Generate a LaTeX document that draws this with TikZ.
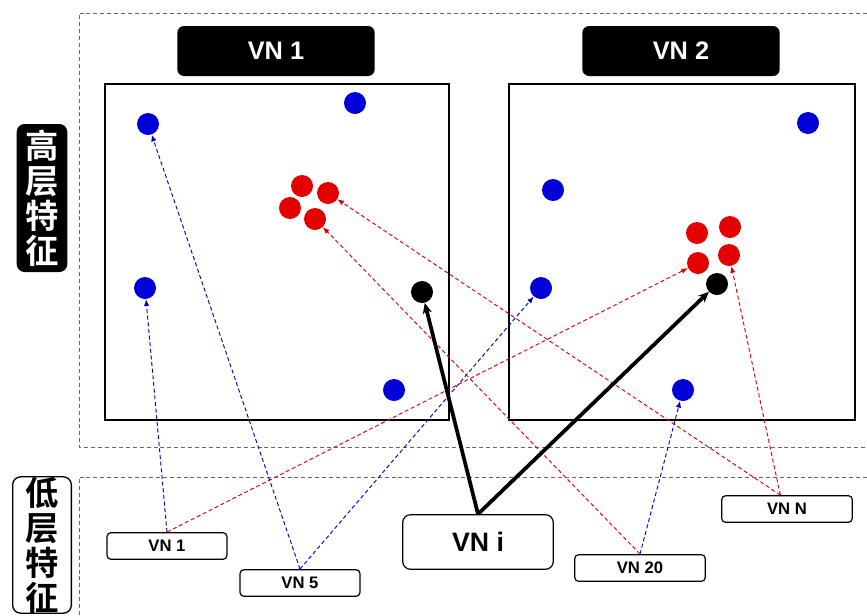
\documentclass[tikz,border=0pt]{standalone}
\usepackage{fontspec}
\setmainfont{Liberation Sans}
\newfontfamily\cjk{Noto Sans CJK SC}[BoldFont={* Bold}]
\usetikzlibrary{arrows.meta}
\begin{document}
\begin{tikzpicture}[x=0.75pt,y=-0.75pt,
  region/.style={draw=black!60,dash pattern=on 3pt off 2.2pt,line width=0.6pt},
  panel/.style={draw=black,line width=1.1pt},
  titlebox/.style={fill=black,rounded corners=5pt,text=white,font=\bfseries\fontsize{19}{22}\selectfont,minimum width=148pt,minimum height=37.5pt,inner sep=0pt},
  sidedark/.style={fill=black,rounded corners=6pt,text=white,font=\cjk\bfseries\fontsize{25}{26.25}\selectfont,align=center,minimum width=38pt,minimum height=111pt,inner sep=0pt},
  sidelight/.style={draw=black,line width=1pt,fill=white,rounded corners=6pt,text=black,font=\cjk\bfseries\fontsize{25}{26.25}\selectfont,align=center,minimum width=44pt,minimum height=101pt,inner sep=0pt},
  smallbox/.style={draw=black,line width=0.9pt,rounded corners=3pt,font=\bfseries\fontsize{12.5}{14}\selectfont,minimum width=90pt,minimum height=20pt,inner sep=0pt},
  widebox/.style={smallbox,minimum width=98pt},
  bigbox/.style={draw=black,line width=0.9pt,rounded corners=6pt,font=\bfseries\fontsize{20}{24}\selectfont,minimum width=113pt,minimum height=41pt,inner sep=0pt},
  bdot/.style={circle,fill=blue!85!black,inner sep=0pt,minimum size=16.5pt},
  rdot/.style={circle,fill=red!90!black,inner sep=0pt,minimum size=16.5pt},
  kdot/.style={circle,fill=black,inner sep=0pt,minimum size=16.5pt},
  bline/.style={draw=blue!75!black,dash pattern=on 3pt off 2pt,line width=0.7pt,-{Latex[length=5pt,width=4pt]}},
  rline/.style={draw=red!85!black,dash pattern=on 3pt off 2pt,line width=0.7pt,-{Latex[length=5pt,width=4pt]}},
  kline/.style={draw=black,line width=2.8pt,-{Stealth[length=8pt,width=7pt]}}
]
\useasboundingbox (0,0) rectangle (867,615);
\fill[white] (0,0) rectangle (867,615);
% regions
\draw[region] (867,13) -- (79,13) -- (79,447) -- (867,447);
\draw[region] (867,477) -- (79,477) -- (79,615);
% panels
\draw[panel] (105,84) rectangle (449,420);
\draw[panel] (509,84) rectangle (855,420);
% titles
\node[titlebox] (t1) at (276,51) {VN 1};
\node[titlebox] (t2) at (681,51) {VN 2};
% side labels
\node[sidedark] (hi) at (42,198) {高\\层\\特\\征};
\node[sidelight] (lo) at (42,545) {低\\层\\特\\征};
% left panel dots
\node[bdot] (lb1) at (148,124) {};
\node[bdot] (lb2) at (355,103) {};
\node[bdot] (lb3) at (145,288) {};
\node[bdot] (lb4) at (394,390) {};
\node[rdot] (lr1) at (302,186) {};
\node[rdot] (lr2) at (328,193) {};
\node[rdot] (lr3) at (290,208) {};
\node[rdot] (lr4) at (315,219) {};
\node[kdot] (lk) at (422,292) {};
% right panel dots
\node[bdot] (rb1) at (808,123) {};
\node[bdot] (rb2) at (553,190) {};
\node[bdot] (rb3) at (541,288) {};
\node[bdot] (rb4) at (683,390) {};
\node[rdot] (rr1) at (697,233) {};
\node[rdot] (rr2) at (730,227) {};
\node[rdot] (rr3) at (698,263) {};
\node[rdot] (rr4) at (729,255) {};
\node[kdot] (rk) at (717,284) {};
% bottom boxes
\node[smallbox] (v1) at (167,546) {VN 1};
\node[smallbox] (v5) at (300,583) {VN 5};
\node[bigbox] (vi) at (478,542) {VN i};
\node[widebox] (v20) at (640,568) {VN 20};
\node[widebox] (vn) at (787,509) {VN N};
% connectors
\draw[bline] (v1.north) -- (lb3);
\draw[rline] (v1.north) -- (rr3);
\draw[bline] (v5.north) -- (lb1);
\draw[bline] (v5.north) -- (rb3);
\draw[rline] (v20.north) -- (lr4);
\draw[bline] (v20.north) -- (rb4);
\draw[rline] ([xshift=-5]vn.north) -- (lr2);
\draw[rline] ([xshift=-5]vn.north) -- (rr4);
\draw[kline] (vi.north) -- (lk);
\draw[kline] (vi.north) -- (rk);
\end{tikzpicture}
\end{document}
